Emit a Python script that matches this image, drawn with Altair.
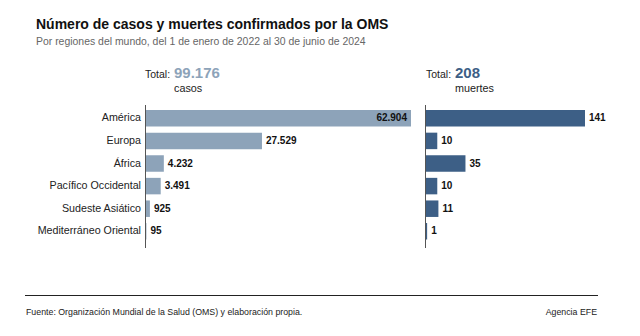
import altair as alt
import pandas as pd

regions = ["América", "Europa", "África", "Pacífico Occidental", "Sudeste Asiático", "Mediterráneo Oriental"]
casos = [62904, 27529, 4232, 3491, 925, 95]
muertes = [141, 10, 35, 10, 11, 1]

title_txt = "Número de casos y muertes confirmados por la OMS"
subtitle_txt = "Por regiones del mundo, del 1 de enero de 2022 al 30 de junio de 2024"
source_txt = "Fuente: Organización Mundial de la Salud (OMS) y elaboración propia."
agency_txt = "Agencia EFE"

df = pd.DataFrame({"region": regions, "casos": casos, "muertes": muertes})
one = pd.DataFrame({"a": [0]})

C_LIGHT = "#8da3b9"
C_DARK = "#3d5f86"
FONT = "Liberation Sans"

yenc = alt.Y("region:N", sort=regions, axis=None,
             scale=alt.Scale(range=[107, 242.6], paddingInner=0.27, paddingOuter=0.135))

xl = alt.X("casos:Q", axis=None, scale=alt.Scale(domain=[0, 62904], range=[146, 411]))
xr = alt.X("muertes:Q", axis=None, scale=alt.Scale(domain=[0, 141], range=[426, 585]))

base = alt.Chart(df)

fmt = "replace(format(datum.{f}, ','), ',', '.')"
VAL = dict(font=FONT, fontWeight="bold", fontSize=10, color="#111", baseline="middle")

bars_l = base.mark_bar(color=C_LIGHT).encode(x=xl, y=yenc)
lab_in = base.transform_filter("datum.casos >= 50000").transform_calculate(
    lbl_c=fmt.format(f="casos")).mark_text(align="right", dx=-4, **VAL).encode(x=xl, y=yenc, text="lbl_c:N")
lab_out = base.transform_filter("datum.casos < 50000").transform_calculate(
    lbl_c2=fmt.format(f="casos")).mark_text(align="left", dx=4, **VAL).encode(x=xl, y=yenc, text="lbl_c2:N")
cats = base.mark_text(align="right", baseline="middle", font=FONT, fontSize=10.7, color="#222").encode(
    x=alt.value(141), y=yenc, text="region:N")
left = alt.layer(bars_l, lab_in, lab_out, cats)

bars_r = base.mark_bar(color=C_DARK).encode(x=xr, y=yenc)
lab_r = base.transform_calculate(lbl_m=fmt.format(f="muertes")).mark_text(
    align="left", dx=4, **VAL).encode(x=xr, y=yenc, text="lbl_m:N")
right = alt.layer(bars_r, lab_r)

# axis lines
ax_l = alt.Chart(one).mark_rule(color="#555", strokeWidth=1).encode(
    x=alt.value(145.5), y=alt.value(105), y2=alt.value(248))
ax_r = alt.Chart(one).mark_rule(color="#555", strokeWidth=1).encode(
    x=alt.value(425.5), y=alt.value(105), y2=alt.value(248))

# totals
def total_layers(field, x0, xnum, color, unit):
    tname = f"total_{field}"
    lname = f"lbl_total_{field}"
    agg = base.transform_aggregate(**{tname: f"sum({field})"}).transform_calculate(
        **{lname: f"replace(format(datum.{tname}, ','), ',', '.')"})
    t1 = alt.Chart(one).mark_text(align="left", baseline="alphabetic", font=FONT, fontSize=10.5,
                                  color="#222").encode(x=alt.value(x0), y=alt.value(78), text=alt.value("Total:"))
    t2 = agg.mark_text(align="left", baseline="alphabetic", font=FONT, fontSize=15, fontWeight="bold",
                       color=color).encode(x=alt.value(xnum), y=alt.value(78), text=f"{lname}:N")
    t3 = alt.Chart(one).mark_text(align="left", baseline="alphabetic", font=FONT, fontSize=10.8,
                                  color="#222").encode(x=alt.value(xnum), y=alt.value(92), text=alt.value(unit))
    return [t1, t2, t3]

tot = total_layers("casos", 145, 174, C_LIGHT, "casos") + total_layers("muertes", 426, 455, C_DARK, "muertes")

title = alt.Chart(one).mark_text(align="left", baseline="alphabetic", font=FONT, fontSize=14,
                                 fontWeight="bold", color="#111").encode(
    x=alt.value(36), y=alt.value(29.3), text=alt.value(title_txt))
subtitle = alt.Chart(one).mark_text(align="left", baseline="alphabetic", font=FONT, fontSize=10.45,
                                    color="#666").encode(
    x=alt.value(36), y=alt.value(45.3), text=alt.value(subtitle_txt))
foot_rule = alt.Chart(one).mark_rule(color="#222", strokeWidth=1).encode(
    x=alt.value(25), x2=alt.value(598), y=alt.value(295.5))
source = alt.Chart(one).mark_text(align="left", baseline="alphabetic", font=FONT, fontSize=8.8,
                                  color="#222").encode(
    x=alt.value(26), y=alt.value(314.5), text=alt.value(source_txt))
agency = alt.Chart(one).mark_text(align="right", baseline="alphabetic", font=FONT, fontSize=8.8,
                                  color="#222").encode(
    x=alt.value(597), y=alt.value(314.5), text=alt.value(agency_txt))

chart = alt.layer(left, right, ax_l, ax_r, *tot, title, subtitle, foot_rule, source, agency).resolve_scale(
    x="independent"
).properties(
    width=640, height=336, autosize=alt.AutoSizeParams(type="none"), padding=0, background="white"
).configure_view(stroke=None)

chart.save("out.html", embed_options={"renderer": "svg", "actions": False})
